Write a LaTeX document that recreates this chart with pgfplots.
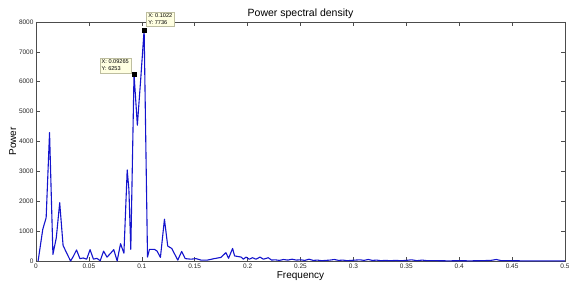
\documentclass[border=0pt]{standalone}
\usepackage{pgfplots}
\pgfplotsset{compat=1.18}
\usepackage{fontspec}
\setmainfont{Liberation Sans}
\definecolor{psdblue}{RGB}{20,20,205}
\definecolor{tipbg}{RGB}{255,255,225}
\definecolor{tipborder}{RGB}{190,190,160}
\begin{document}
\begin{tikzpicture}
\begin{axis}[
  scale only axis,
  width=529pt, height=239pt,
  xmin=0, xmax=0.5, ymin=0, ymax=8000,
  xtick={0,0.05,0.1,0.15,0.2,0.25,0.3,0.35,0.4,0.45,0.5},
  xticklabels={0,0.05,0.1,0.15,0.2,0.25,0.3,0.35,0.4,0.45,0.5},
  ytick={0,1000,2000,3000,4000,5000,6000,7000,8000},
  yticklabels={0,1000,2000,3000,4000,5000,6000,7000,8000},
  tick pos=both, tick align=inside,
  major tick length=4pt,
  tick style={black!70, line width=0.5pt},
  axis line style={black!70, line width=0.6pt},
  ticklabel style={font=\fontsize{6.5}{7}\selectfont, text=black!85},
  xticklabel style={yshift=1pt},
  yticklabel style={xshift=1pt},
  title={Power spectral density},
  title style={font=\fontsize{10.5}{12}\selectfont, yshift=-6pt},
  xlabel={Frequency},
  ylabel={Power},
  label style={font=\fontsize{10}{12}\selectfont},
  xlabel style={yshift=3pt},
  ylabel style={yshift=-4pt},
  clip=false,
]
\coordinate (ll) at (rel axis cs:0,0);
\coordinate (ur) at (rel axis cs:1,1);
\addplot[psdblue, line width=1.1pt, line join=round] coordinates {
(0.002,0) (0.0064,1060) (0.0096,1450) (0.0128,4300) (0.016,220) (0.0192,780)
(0.0224,1950) (0.0256,520) (0.0288,280) (0.0327,0) (0.0352,150) (0.0383,370)
(0.0415,80) (0.0447,100) (0.0479,60) (0.0511,380) (0.0543,60) (0.0575,90)
(0.0607,10) (0.0639,330) (0.0671,130) (0.0703,250) (0.0735,380) (0.0767,0)
(0.0799,580) (0.0831,260) (0.0862,3050) (0.0878,2400) (0.0896,390)
(0.09265,6253) (0.0958,4545) (0.0990,6100) (0.1022,7736) (0.1054,130)
(0.1072,390) (0.112,390) (0.1145,330) (0.1176,120) (0.1214,1400) (0.1245,500)
(0.1283,420) (0.134,30) (0.1377,320) (0.141,80) (0.1465,60) (0.1512,80)
(0.156,30) (0.162,30) (0.1686,80) (0.1748,120) (0.1795,280) (0.182,90)
(0.1858,420) (0.1877,170) (0.1909,150) (0.194,130) (0.196,60) (0.1985,130)
(0.2016,60) (0.2047,110) (0.2079,60) (0.2117,130) (0.215,60) (0.2195,110)
(0.2227,30) (0.226,40) (0.230,20) (0.234,50) (0.238,30) (0.242,60) (0.246,30)
(0.250,40) (0.254,20) (0.258,60) (0.262,20) (0.266,30) (0.270,10) (0.274,20)
(0.278,30) (0.282,50) (0.286,20) (0.290,30) (0.294,10) (0.298,20) (0.302,30)
(0.306,40) (0.310,20) (0.314,50) (0.318,20) (0.322,30) (0.326,10) (0.330,20)
(0.335,10) (0.340,20) (0.345,10) (0.350,20) (0.355,40) (0.360,10) (0.365,30)
(0.370,10) (0.38,10) (0.39,5) (0.40,10) (0.41,5) (0.42,10) (0.43,20)
(0.435,50) (0.44,10) (0.45,10) (0.46,5) (0.47,5) (0.48,5) (0.49,5) (0.5,5)
};
\addplot[only marks, mark=square*, mark size=2pt, black] coordinates {(0.09265,6253) (0.1022,7736)};
\node[draw=tipborder, fill=tipbg, font=\fontsize{5.6}{7}\selectfont, align=left, inner sep=2pt, anchor=south east]
  at ([shift={(-3pt,1pt)}]axis cs:0.09265,6253) {X: 0.09265\\Y: 6253};
\node[draw=tipborder, fill=tipbg, font=\fontsize{5.6}{7}\selectfont, align=left, inner sep=2pt, anchor=south west]
  at ([shift={(2pt,3pt)}]axis cs:0.1022,7736) {X: 0.1022\\Y: 7736};
\end{axis}
\pgfresetboundingbox
\path[use as bounding box] ([shift={(-36pt,-26pt)}]ll) rectangle ([shift={(4pt,22pt)}]ur);
\end{tikzpicture}
\end{document}
